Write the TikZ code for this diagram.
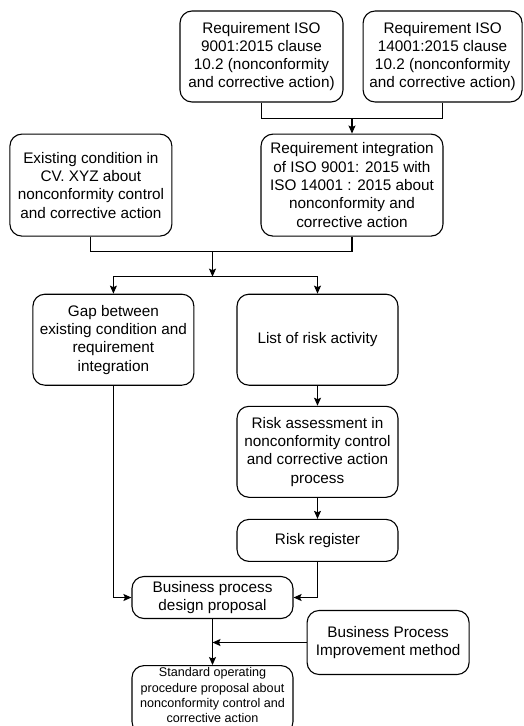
\documentclass[tikz,border=0pt]{standalone}
\usepackage{fontspec}
\setmainfont{Liberation Sans}
\usepackage{tikz}
\usetikzlibrary{arrows.meta,positioning}
\tikzset{%
  >={Stealth[width=7pt,length=8pt,inset=1.5pt]},
            base/.style = {rectangle, rounded corners=12pt, draw=black, line width=1.1pt,
                           minimum width=161pt, minimum height=42pt, inner sep=2pt,
                           text centered, align=center,
                           font=\fontsize{15.3}{18.3}\selectfont},
  tall/.style  = {base, minimum height=91pt},
  taller/.style = {base, minimum height=102pt},
  small/.style = {base, minimum height=68pt, text depth=9pt,
                  font=\fontsize{12.6}{15.3}\selectfont},
  link/.style  = {line width=1.1pt},
}

\begin{document}
\begin{tikzpicture}[link]
  \useasboundingbox (0pt,0pt) rectangle (523pt,-726pt);

  \node (iso9001)  [tall, minimum width=163pt] at (261.5pt,-56.5pt)
                   {Requirement ISO\\ 9001:2015 clause\\ 10.2 (nonconformity\\ and corrective action)};
  \node (iso14001) [tall, minimum width=159pt, right=19pt of iso9001]
                   {Requirement ISO\\ 14001:2015 clause\\ 10.2 (nonconformity\\ and corrective action)};
  \node (integ)    [taller, minimum width=182pt, below=31pt of iso9001, xshift=90.5pt]
                   {Requirement integration\\ of ISO 9001: 2015 with\\ ISO 14001 : 2015 about\\ nonconformity and\\ corrective action};
  \node (exist)    [taller, minimum width=162pt, left=88pt of integ]
                   {Existing condition in\\ CV. XYZ about\\ nonconformity control\\ and corrective action};
  \node (gap)      [tall, below=57pt of exist, xshift=22.5pt]
                   {Gap between\\ existing condition and\\ requirement\\ integration};
  \node (list)     [tall, right=42pt of gap]  {List of risk activity};
  \node (risk)     [tall, below=20pt of list]
                   {Risk assessment in\\ nonconformity control\\ and corrective action\\ process};
  \node (reg)      [base, below=21pt of risk] {Risk register};
  \node (bpd)      [base, below=14pt of reg, xshift=-105pt] {Business process\\ design proposal};
  \node (sop)      [small, below=46pt of bpd]
                   {Standard operating\\ procedure proposal about\\ nonconformity control and\\ corrective action};
  \node (bpi)      [base, minimum width=162pt, minimum height=64pt, right=13pt of bpd, yshift=-45pt]
                   {Business Process\\ Improvement method};

  % junction points
  \path (iso9001.south) ++(0,-16pt) coordinate (bar1);
  \coordinate (join1) at (integ.north |- bar1);
  \path (exist.south) ++(0,-15pt) coordinate (bar2);
  \coordinate (join2) at (bpd.north |- bar2);
  \path (gap.north) ++(0,17pt) coordinate (bar3);
  \coordinate (split) at (bpd.north |- bar3);

  \draw       (iso9001.south) -- (bar1) -| (iso14001.south);
  \draw[->]   (join1) -- (integ);
  \draw       (exist.south) -- (bar2) -| (integ.south);
  \draw[->]   (join2) -- (split);
  \draw[->]   (split) -| (gap);
  \draw[->]   (split) -| (list);
  \draw[->]   (list) -- (risk);
  \draw[->]   (risk) -- (reg);
  \draw[->]   (gap) |- (bpd);
  \draw[->]   (reg) |- (bpd);
  \draw[->]   (bpd) -- (sop);
  \draw[->]   (bpi.west) -- (bpi.west -| bpd.south);
\end{tikzpicture}
\end{document}
